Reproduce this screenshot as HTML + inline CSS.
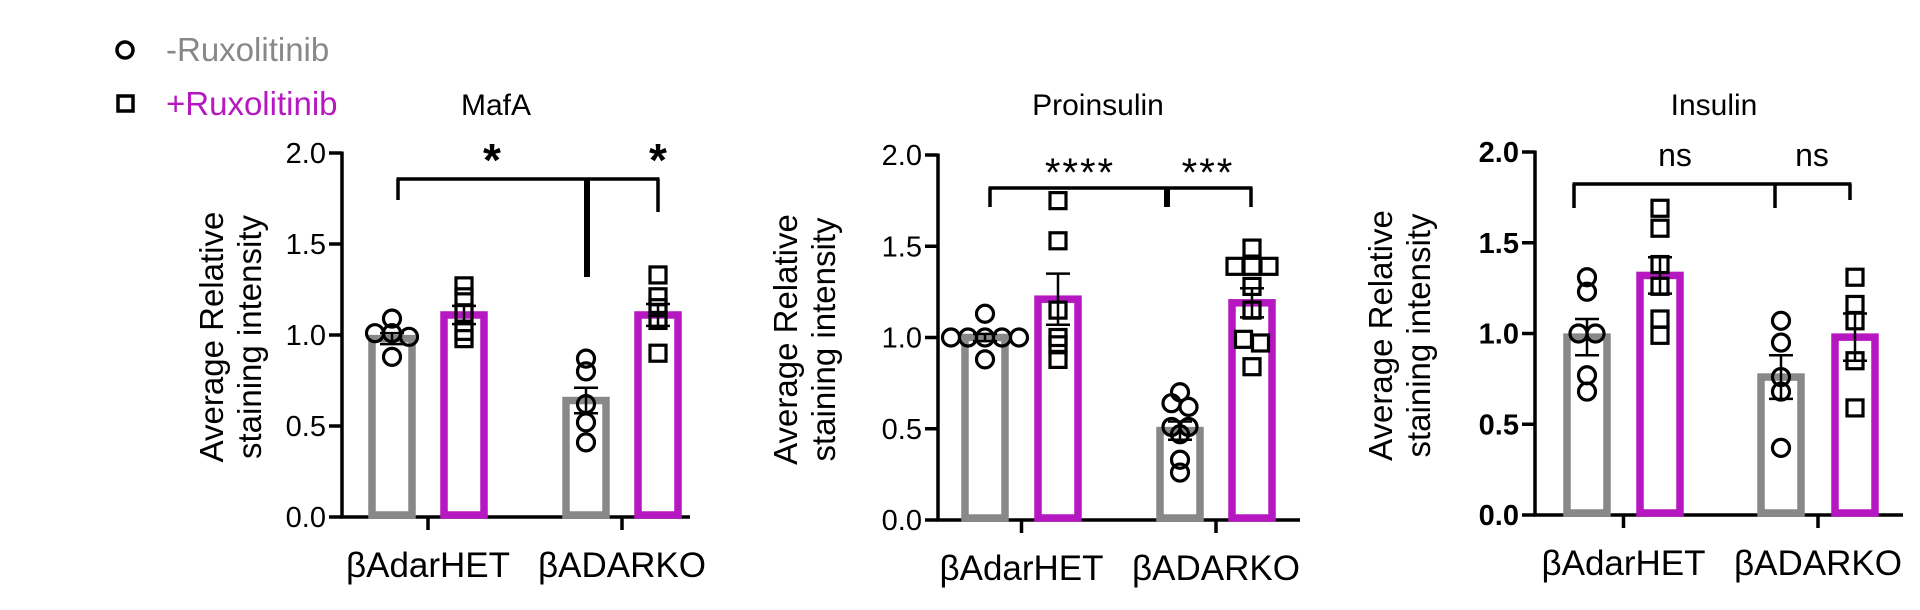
<!DOCTYPE html>
<html><head><meta charset="utf-8"><style>
html,body{margin:0;padding:0;background:#fff;}
svg{display:block;font-family:"Liberation Sans",sans-serif;}
</style></head><body>
<svg id="fig" width="1920" height="610" viewBox="0 0 1920 610" xmlns="http://www.w3.org/2000/svg">
  <g>
    <g>
      <circle cx="125" cy="50" r="8" fill="none" stroke="#000" stroke-width="3.5"/>
      <text x="166" y="61" font-size="33" fill="#888">-Ruxolitinib</text>
    </g>
    <g>
      <rect x="118" y="96" width="15" height="15" fill="none" stroke="#000" stroke-width="3.5"/>
      <text x="166" y="115" font-size="33" fill="#b517c0">+Ruxolitinib</text>
    </g>
  </g>
</svg>
<script>
// ---- data ----
const categories = ["\u03B2AdarHET", "\u03B2ADARKO"];
const yTicks = [0, 0.5, 1.0, 1.5, 2.0];
const yTickLabels = ["0.0", "0.5", "1.0", "1.5", "2.0"];

const mafaMeans = [0.98, 1.11, 0.64, 1.11];
const mafaErr = [0.03, 0.05, 0.07, 0.06];
const mafaHetMinus = [1.09, 1.01, 1.01, 0.99, 0.88];
const mafaHetPlus = [1.27, 1.21, 1.12, 1.02, 0.98];
const mafaKoMinus = [0.87, 0.80, 0.62, 0.52, 0.41];
const mafaKoPlus = [1.33, 1.21, 1.15, 1.08, 0.90];
const mafaStars = ["*", "*"];

const proMeans = [1.0, 1.21, 0.49, 1.19];
const proErr = [0.02, 0.14, 0.05, 0.08];
const proHetMinus = [1.13, 1.0, 1.0, 1.0, 1.0, 1.0, 0.88];
const proHetPlus = [1.75, 1.53, 1.15, 1.0, 0.96, 0.88];
const proKoMinus = [0.70, 0.64, 0.62, 0.51, 0.51, 0.47, 0.33, 0.26];
const proKoPlus = [1.49, 1.39, 1.39, 1.39, 1.28, 1.15, 0.99, 0.97, 0.84];
const proStars = ["****", "***"];

const insMeans = [0.98, 1.32, 0.76, 0.98];
const insErr = [0.10, 0.10, 0.12, 0.13];
const insHetMinus = [1.31, 1.23, 1.0, 1.0, 0.77, 0.68];
const insHetPlus = [1.69, 1.58, 1.38, 1.26, 1.08, 0.99];
const insKoMinus = [1.07, 0.95, 0.76, 0.68, 0.37];
const insKoPlus = [1.31, 1.16, 1.07, 0.85, 0.59];
const insStars = ["ns", "ns"];

const NS = "http://www.w3.org/2000/svg";
const svg = document.getElementById('fig');
function mk(tag, attrs, parent) {
  const e = document.createElementNS(NS, tag);
  for (const k in attrs) e.setAttribute(k, attrs[k]);
  (parent || svg).appendChild(e);
  return e;
}

function panel(cfg) {
  const g = mk('g', {});
  
  
  const y = v => cfg.y0 - (cfg.y0 - cfg.y2) * v / 2;
  const x = i => cfg.barX[i];
  const t = mk('text', {x: cfg.titleX, y: 115, 'font-size': 30, 'text-anchor': 'middle', fill: '#000'}, g);
  t.textContent = cfg.title;
  
  
  const yt = mk('text', {transform: `translate(${cfg.ytX},${(cfg.y0 + cfg.y2) / 2 + 2}) rotate(-90)`, 'font-size': 33, 'text-anchor': 'middle', fill: '#000'}, g);
  
  
  const l1 = mk('tspan', {x: 0, y: 0}, yt); l1.textContent = 'Average Relative';
  const l2 = mk('tspan', {x: 0, y: 38}, yt); l2.textContent = 'staining intensity';
  const ya = mk('g', {}, g);
  
  
  mk('line', {x1: cfg.ax, y1: y(2) - 1.5, x2: cfg.ax, y2: cfg.y0, stroke: '#000', 'stroke-width': 3.5}, ya);
  yTicks.forEach((v, i) => {
    mk('line', {x1: cfg.ax - 13, y1: y(v), x2: cfg.ax, y2: y(v), stroke: '#000', 'stroke-width': 3.5}, ya);
    const tl = mk('text', {x: cfg.ax - 16, y: y(v) + 10, 'font-size': 29, 'text-anchor': 'end', fill: '#000', 'font-weight': cfg.bold ? 'bold' : 'normal'}, ya);
    tl.textContent = yTickLabels[i];
    
    
  });
  const xa = mk('g', {}, g);
  
  
  mk('line', {x1: cfg.ax - 1.5, y1: cfg.y0, x2: cfg.axEnd, y2: cfg.y0, stroke: '#000', 'stroke-width': 3.5}, xa);
  categories.forEach((c, i) => {
    const cx = (x(2 * i) + x(2 * i + 1)) / 2;
    mk('line', {x1: cx, y1: cfg.y0, x2: cx, y2: cfg.y0 + 13, stroke: '#000', 'stroke-width': 3.5}, xa);
    const cl = mk('text', {x: cx, y: cfg.y0 + 60, 'font-size': 35, 'text-anchor': 'middle', fill: '#000'}, xa);
    cl.textContent = c;
    
    
  });
  const pts = [cfg.p0, cfg.p1, cfg.p2, cfg.p3];
  cfg.means.forEach((m, i) => {
    const bar = mk('rect', {x: x(i) - 20, y: y(m), width: 40, height: cfg.y0 - y(m) - 2, fill: 'none', stroke: i % 2 ? '#b517c0' : '#888', 'stroke-width': 7.5}, g);
    
    
  });
  pts.forEach((arr, i) => {
    const pg = mk('g', {}, g);
    
    
    arr.forEach((v, j) => {
      let same = 0, idx = 0;
      arr.forEach((w, k) => { if (Math.abs(w - v) < 0.035) { if (k < j) idx++; same++; } });
      const dx = (idx - (same - 1) / 2) * 17;
      const px = x(i) + dx, py = y(v);
      let p;
      if (i % 2 === 0) p = mk('circle', {cx: px, cy: py, r: 8.5, fill: 'none', stroke: '#000', 'stroke-width': 3.2}, pg);
      else p = mk('rect', {x: px - 8, y: py - 8, width: 16, height: 16, fill: 'none', stroke: '#000', 'stroke-width': 3.2}, pg);
      
      
    });
  });
  cfg.means.forEach((m, i) => {
    const eg = mk('g', {stroke: '#000', 'stroke-width': 2.5}, g);
    
    
    const e = cfg.err[i];
    mk('line', {x1: x(i), y1: y(m + e), x2: x(i), y2: y(m - e)}, eg);
    mk('line', {x1: x(i) - 12, y1: y(m + e), x2: x(i) + 12, y2: y(m + e)}, eg);
    mk('line', {x1: x(i) - 12, y1: y(m - e), x2: x(i) + 12, y2: y(m - e)}, eg);
  });
  const b = cfg.br;
  const bg = mk('g', {stroke: '#000', 'stroke-width': 3.5, fill: 'none'}, g);
  
  
  mk('line', {x1: b.l - 1.5, y1: b.top, x2: b.r + 1.5, y2: b.top}, bg);
  mk('line', {x1: b.l, y1: b.top, x2: b.l, y2: b.lb}, bg);
  mk('line', {x1: b.m, y1: b.top, x2: b.m, y2: b.mb, 'stroke-width': b.mw}, bg);
  mk('line', {x1: b.r, y1: b.top, x2: b.r, y2: b.rb}, bg);
  cfg.stars.forEach((s, i) => {
    const st = mk('text', {x: b.sx[i], y: b.sy, 'font-size': b.sf, 'text-anchor': 'middle', fill: '#000', 'font-weight': b.sb ? 'bold' : 'normal', 'letter-spacing': b.ls || 0}, g);
    st.textContent = s;
    
    
  });
}

panel({name: 'mafa', title: 'MafA', titleX: 496, ytX: 223, ax: 342, axEnd: 690, y0: 517, y2: 153,
  barX: [392, 464, 586, 658], means: mafaMeans, err: mafaErr,
  p0: mafaHetMinus, p1: mafaHetPlus, p2: mafaKoMinus, p3: mafaKoPlus, stars: mafaStars,
  br: {top: 179, l: 398, lb: 200, m: 587, mb: 277, mw: 6, r: 658, rb: 212, sx: [492, 658], sy: 176, sf: 46, sb: true}});
panel({name: 'proinsulin', title: 'Proinsulin', titleX: 1098, ytX: 797, ax: 938, axEnd: 1300, y0: 520, y2: 155,
  barX: [985, 1058, 1180, 1252], means: proMeans, err: proErr,
  p0: proHetMinus, p1: proHetPlus, p2: proKoMinus, p3: proKoPlus, stars: proStars,
  br: {top: 188, l: 990, lb: 207, m: 1167, mb: 207, mw: 6, r: 1251, rb: 207, sx: [1080, 1208], sy: 186, sf: 40, sb: false, ls: 2}});
panel({name: 'insulin', title: 'Insulin', titleX: 1714, ytX: 1392, ax: 1535, axEnd: 1903, y0: 515, y2: 152, bold: true,
  barX: [1587, 1660, 1781, 1855], means: insMeans, err: insErr,
  p0: insHetMinus, p1: insHetPlus, p2: insKoMinus, p3: insKoPlus, stars: insStars,
  br: {top: 184, l: 1574, lb: 208, m: 1775, mb: 208, mw: 3.5, r: 1850, rb: 200, sx: [1675, 1812], sy: 166, sf: 32, sb: false}});
</script>
</body></html>
